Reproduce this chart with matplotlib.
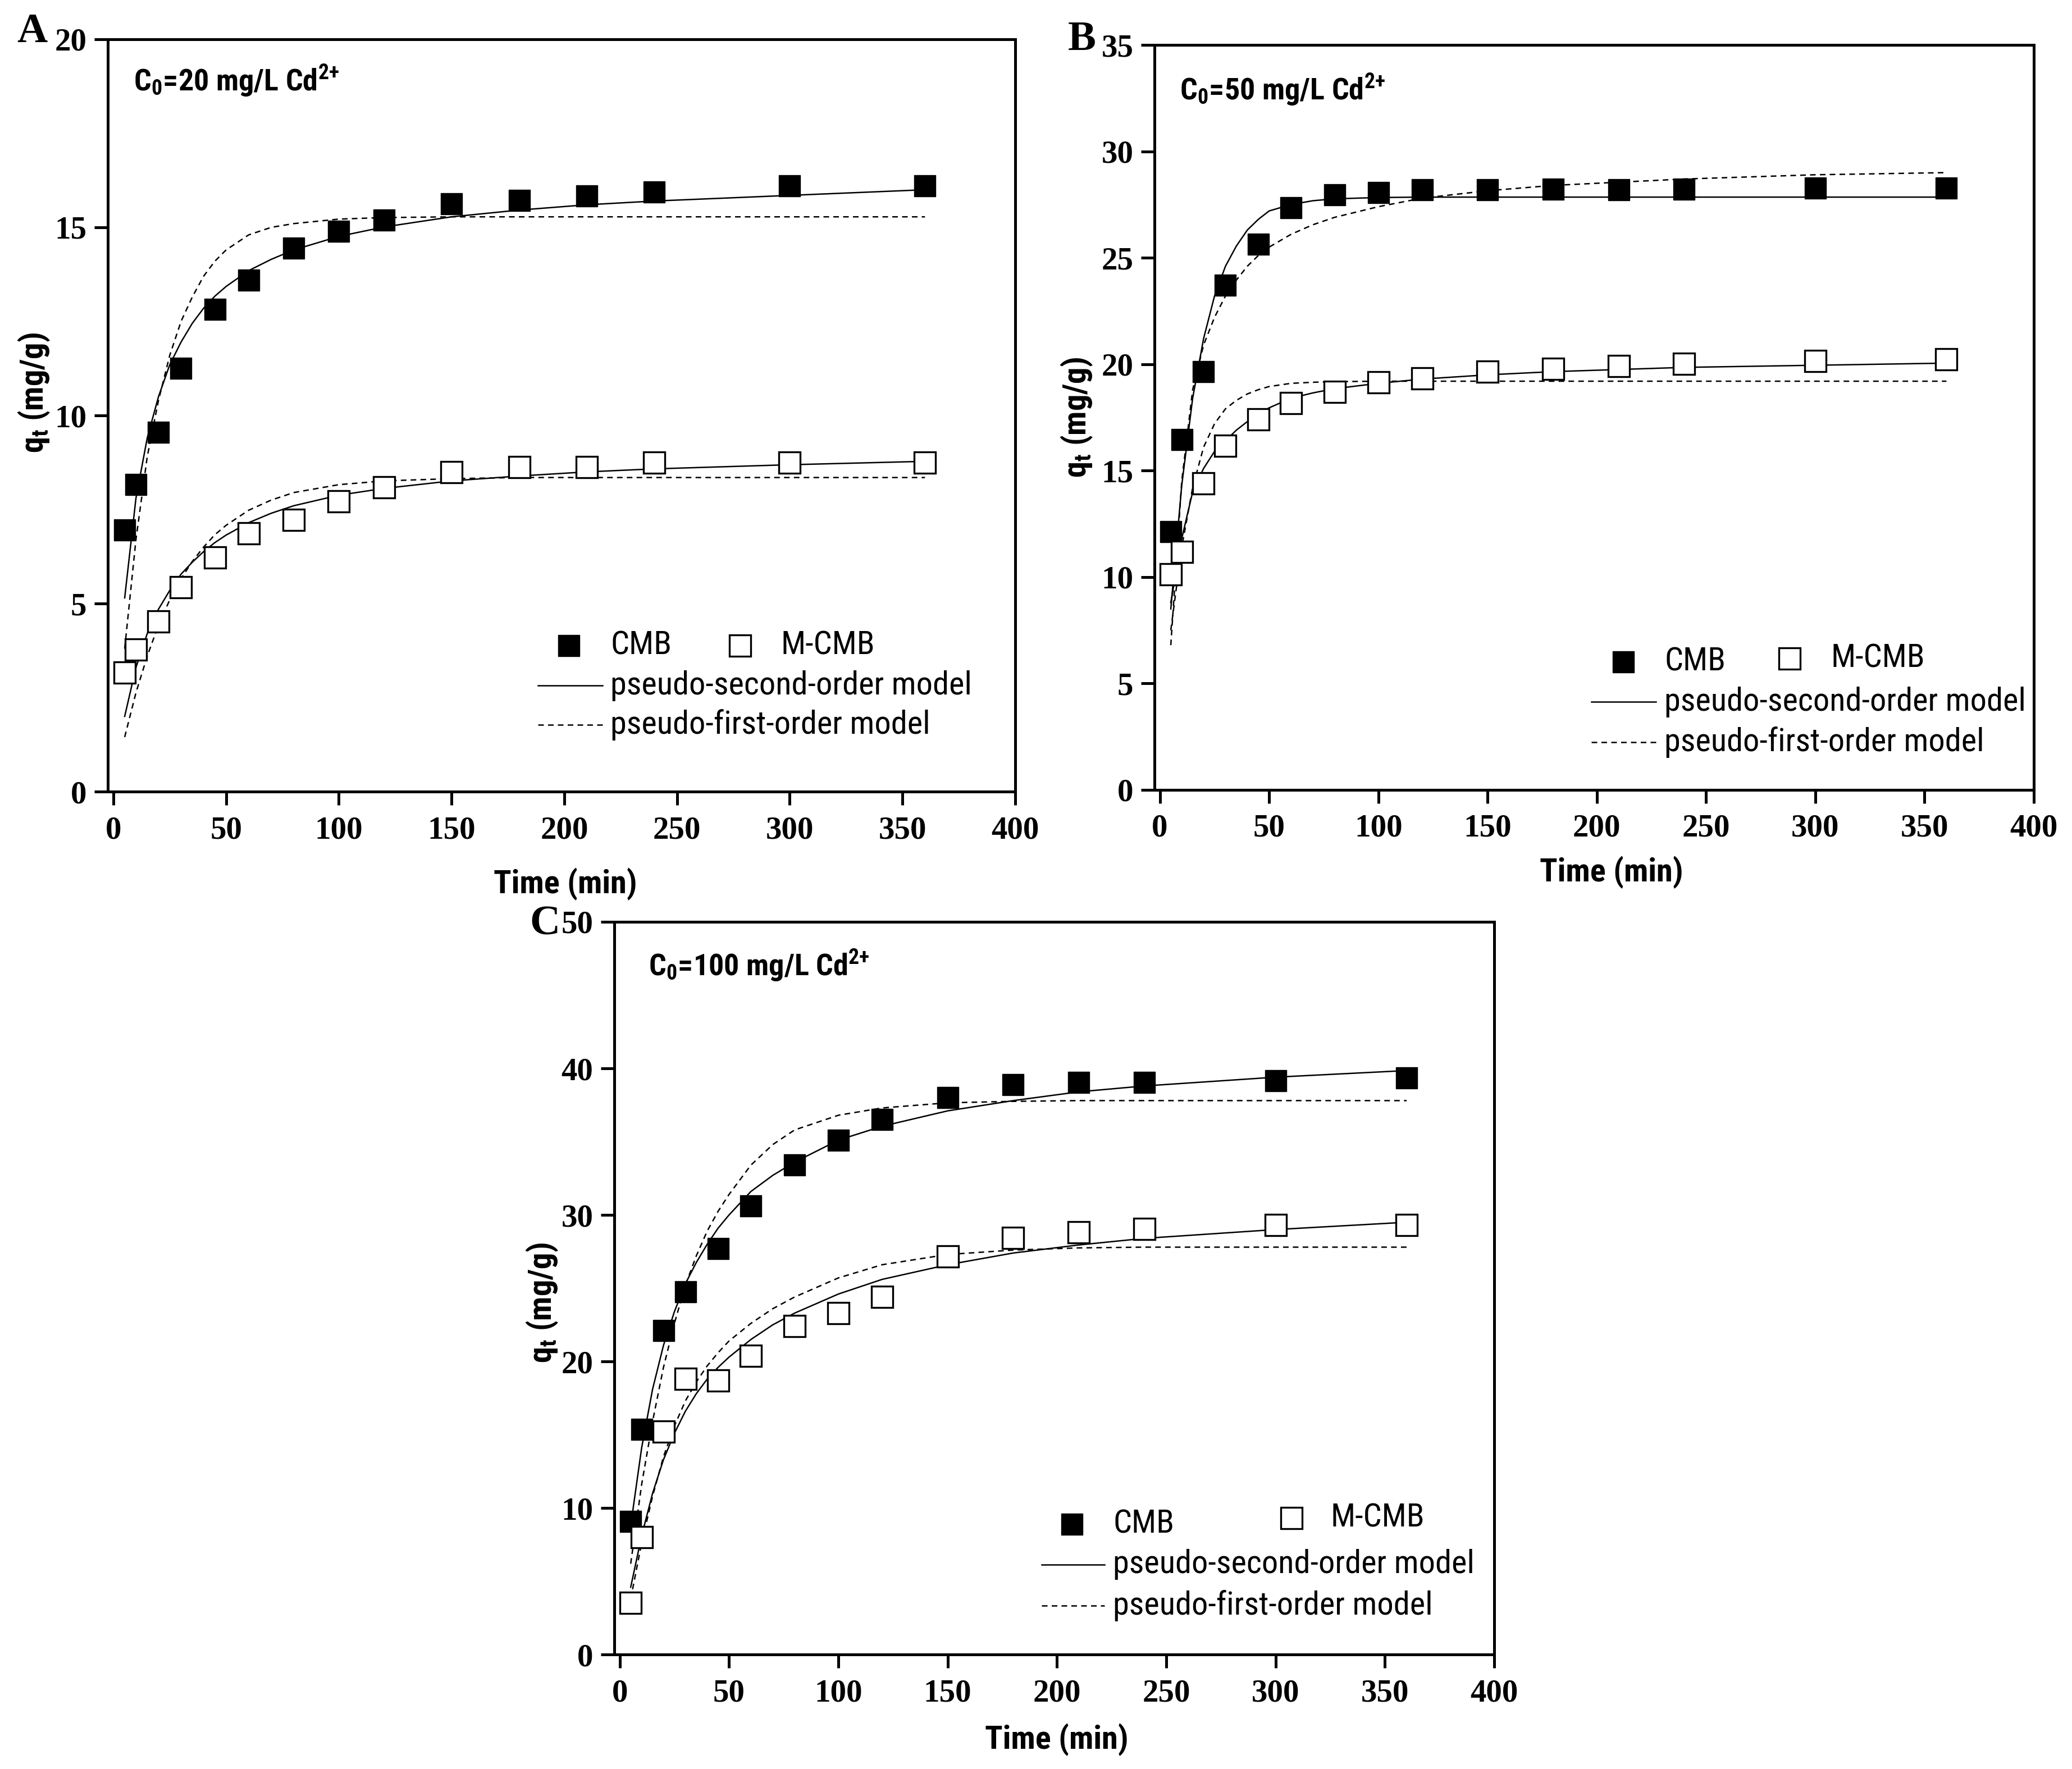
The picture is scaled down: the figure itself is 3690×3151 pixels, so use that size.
import matplotlib
matplotlib.use("Agg")
import matplotlib.pyplot as plt
from matplotlib import font_manager
from matplotlib.font_manager import FontProperties

# ---- data (time in min, q_t in mg/g) ----
t_exp = [5, 10, 20, 30, 45, 60, 80, 100, 120, 150, 180, 210, 240, 300, 360]
t_fit = [5, 10, 15, 20, 25, 30, 35, 40, 45, 50, 60, 70, 80, 100, 120, 150, 180, 210, 240, 300, 360]

# A: C0 = 20 mg/L
a_cmb = [6.95, 8.17, 9.55, 11.25, 12.82, 13.6, 14.45, 14.9, 15.2, 15.62, 15.71, 15.83, 15.94, 16.1, 16.1]
a_mcmb = [3.16, 3.77, 4.53, 5.44, 6.22, 6.86, 7.22, 7.71, 8.09, 8.5, 8.62, 8.62, 8.75, 8.75, 8.75]
a_cmb_pso = [5.15, 7.8, 9.4, 10.5, 11.35, 11.95, 12.45, 12.85, 13.17, 13.43, 13.85, 14.15, 14.4, 14.76, 15.01, 15.28, 15.46, 15.6, 15.7, 15.85, 16.0]
a_cmb_pfo = [3.8, 6.7, 8.9, 10.4, 11.6, 12.5, 13.15, 13.7, 14.1, 14.4, 14.8, 15.0, 15.1, 15.22, 15.26, 15.28, 15.28, 15.28, 15.28, 15.28, 15.28]
a_mcmb_pso = [2.0, 3.3, 4.2, 4.85, 5.35, 5.78, 6.1, 6.38, 6.62, 6.82, 7.15, 7.4, 7.6, 7.88, 8.06, 8.26, 8.39, 8.5, 8.58, 8.69, 8.78]
a_mcmb_pfo = [1.45, 2.63, 3.6, 4.43, 5.1, 5.66, 6.12, 6.5, 6.83, 7.08, 7.48, 7.75, 7.95, 8.16, 8.26, 8.32, 8.35, 8.35, 8.35, 8.35, 8.35]

# B: C0 = 50 mg/L
b_cmb = [12.12, 16.45, 19.66, 23.7, 25.63, 27.36, 27.95, 28.06, 28.19, 28.19, 28.22, 28.19, 28.22, 28.27, 28.27]
b_mcmb = [10.12, 11.17, 14.4, 16.18, 17.42, 18.17, 18.69, 19.14, 19.33, 19.66, 19.79, 19.92, 20.03, 20.14, 20.22]
b_cmb_pso = [8.5, 14.3, 18.4, 21.2, 23.2, 24.6, 25.55, 26.3, 26.8, 27.2, 27.5, 27.68, 27.77, 27.83, 27.85, 27.85, 27.85, 27.85, 27.85, 27.85, 27.85]
b_cmb_pfo = [6.8, 14.5, 18.8, 20.9, 22.2, 23.2, 23.95, 24.6, 25.1, 25.5, 26.1, 26.55, 26.9, 27.4, 27.8, 28.15, 28.4, 28.55, 28.7, 28.9, 29.0]
b_mcmb_pso = [8.8, 11.8, 14.0, 15.1, 15.9, 16.4, 16.9, 17.3, 17.65, 17.95, 18.4, 18.65, 18.85, 19.1, 19.3, 19.5, 19.65, 19.75, 19.85, 19.95, 20.05]
b_mcmb_pfo = [7.5, 11.4, 14.2, 16.1, 17.2, 17.9, 18.3, 18.6, 18.8, 18.95, 19.1, 19.15, 19.18, 19.2, 19.2, 19.2, 19.2, 19.2, 19.2, 19.2, 19.2]

# C: C0 = 100 mg/L
c_cmb = [9.1, 15.35, 22.1, 24.77, 27.7, 30.6, 33.4, 35.08, 36.5, 38.0, 38.9, 39.06, 39.06, 39.14, 39.34]
c_mcmb = [3.52, 8.0, 15.2, 18.8, 18.7, 20.4, 22.4, 23.3, 24.4, 27.15, 28.44, 28.83, 29.06, 29.3, 29.3]
c_cmb_pso = [8.8, 14.1, 18.1, 21.1, 23.4, 25.3, 26.75, 28.0, 29.1, 30.0, 31.6, 32.7, 33.6, 35.1, 36.05, 37.1, 37.8, 38.4, 38.8, 39.4, 39.85]
c_cmb_pfo = [6.2, 11.6, 15.9, 19.6, 22.6, 25.2, 27.2, 28.9, 30.25, 31.4, 33.4, 34.8, 35.8, 36.8, 37.3, 37.65, 37.75, 37.8, 37.8, 37.8, 37.8]
c_mcmb_pso = [4.6, 8.1, 11.0, 13.3, 15.1, 16.6, 17.8, 18.8, 19.6, 20.3, 21.5, 22.5, 23.3, 24.6, 25.6, 26.6, 27.4, 27.95, 28.4, 29.0, 29.5]
c_mcmb_pfo = [3.8, 7.6, 10.8, 13.5, 15.6, 17.3, 18.6, 19.7, 20.6, 21.4, 22.6, 23.6, 24.4, 25.7, 26.6, 27.3, 27.6, 27.75, 27.8, 27.8, 27.8]

# ---- fonts: look for a narrow sans like the original's Arial Narrow ----
narrow_name, narrow_stretch, size_k = "Liberation Sans", "normal", 0.9
fonts = font_manager.fontManager.ttflist
for name, stretch in [("Liberation Sans Narrow", None), ("Roboto Condensed", None),
                      ("Open Sans Condensed", None), ("DejaVu Sans", "condensed")]:
    hit = [f for f in fonts if f.name == name and (stretch is None or f.stretch == stretch)]
    if hit:
        narrow_name, narrow_stretch, size_k = name, (stretch or "normal"), 1.0
        break


def sans(size, weight="bold"):
    return FontProperties(family=narrow_name, stretch=narrow_stretch,
                          weight=weight, size=size * size_k)


plt.rcParams["font.family"] = "Liberation Serif"
plt.rcParams["font.weight"] = "bold"
plt.rcParams["mathtext.fontset"] = "custom"
pattern = f"{narrow_name}:bold:stretch={narrow_stretch}"
plt.rcParams["mathtext.rm"] = pattern
plt.rcParams["mathtext.it"] = pattern
plt.rcParams["mathtext.bf"] = pattern
plt.rcParams["mathtext.default"] = "bf"

fig = plt.figure(figsize=(36.91, 31.51), dpi=100)

panels = [
    dict(rect=[0.0520, 0.5525, 0.4378, 0.4253], ymax=20, ystep=5,
         cmb=a_cmb, mcmb=a_mcmb, fits=(a_cmb_pso, a_cmb_pfo, a_mcmb_pso, a_mcmb_pfo),
         note=r"C$_0$=20 mg/L Cd$^{2{+}}$", note_xy=(0.0285, 0.931),
         letter="A", letter_xy=(0.0155, 0.982),
         ylab_xy=(-0.062, 0.53), xlab_xy=(0.504, -0.101),
         leg=dict(m1=(0.508, 0.194), t1=0.554, m2=(0.697, 0.194), t2=0.742,
                  lx=(0.474, 0.545), ly=(0.141, 0.089), tx=0.554)),
    dict(rect=[0.5570, 0.5535, 0.4243, 0.4211], ymax=35, ystep=5,
         cmb=b_cmb, mcmb=b_mcmb, fits=(b_cmb_pso, b_cmb_pfo, b_mcmb_pso, b_mcmb_pfo),
         note=r"C$_0$=50 mg/L Cd$^{2{+}}$", note_xy=(0.029, 0.926),
         letter="B", letter_xy=(0.522, 0.9775),
         ylab_xy=(-0.068, 0.50), xlab_xy=(0.52, -0.089),
         leg=dict(m1=(0.533, 0.172), t1=0.580, m2=(0.722, 0.176), t2=0.769,
                  lx=(0.497, 0.570), ly=(0.118, 0.064), tx=0.580)),
    dict(rect=[0.2964, 0.0647, 0.4245, 0.4142], ymax=50, ystep=10,
         cmb=c_cmb, mcmb=c_mcmb, fits=(c_cmb_pso, c_cmb_pfo, c_mcmb_pso, c_mcmb_pfo),
         note=r"C$_0$=100 mg/L Cd$^{2{+}}$", note_xy=(0.039, 0.926),
         letter="C", letter_xy=(0.2628, 0.4775),
         ylab_xy=(-0.062, 0.48), xlab_xy=(0.503, -0.094),
         leg=dict(m1=(0.520, 0.178), t1=0.567, m2=(0.770, 0.186), t2=0.814,
                  lx=(0.486, 0.557), ly=(0.123, 0.067), tx=0.567)),
]

lw_fit = 1.8
dash = (0, (4, 3))
msize = 27
mew_open = 2.4

for p in panels:
    ax = fig.add_axes(p["rect"])
    pso_c, pfo_c, pso_m, pfo_m = p["fits"]
    ax.plot(t_fit, pso_c, "-", color="black", lw=lw_fit)
    ax.plot(t_fit, pfo_c, color="black", lw=lw_fit, linestyle=dash)
    ax.plot(t_fit, pso_m, "-", color="black", lw=lw_fit)
    ax.plot(t_fit, pfo_m, color="black", lw=lw_fit, linestyle=dash)
    ax.plot(t_exp, p["cmb"], "s", color="black", ms=msize, mec="black")
    ax.plot(t_exp, p["mcmb"], "s", mfc="white", mec="black", ms=msize, mew=mew_open)

    ax.set_xlim(-2.5, 400)
    ax.set_ylim(0, p["ymax"])
    ax.set_xticks(range(0, 401, 50))
    ax.set_yticks(range(0, p["ymax"] + 1, p["ystep"]))
    for s in ax.spines.values():
        s.set_linewidth(3.6)
    ax.tick_params(direction="out", length=17, width=3.6, labelsize=41, pad=10)
    ax.tick_params(axis="x", pad=14)

    ax.set_xlabel("Time (min)", fontproperties=sans(42))
    ax.set_ylabel(r"q$_t$ (mg/g)", fontproperties=sans(42))
    ax.xaxis.set_label_coords(*p["xlab_xy"])
    ax.yaxis.set_label_coords(*p["ylab_xy"])

    ax.text(p["note_xy"][0], p["note_xy"][1], p["note"], transform=ax.transAxes,
            fontproperties=sans(39), va="baseline", ha="left")
    fig.text(p["letter_xy"][0], p["letter_xy"][1], p["letter"], fontsize=54,
             fontweight="bold", ha="center", va="center")

    # hand-placed legend, as in the original figure
    lg = p["leg"]
    tr = ax.transAxes
    ax.plot([lg["m1"][0]], [lg["m1"][1]], "s", color="black", ms=msize, transform=tr)
    ax.text(lg["t1"], lg["m1"][1], "CMB", transform=tr,
            fontproperties=sans(42, "normal"), va="center")
    ax.plot([lg["m2"][0]], [lg["m2"][1]], "s", mfc="white", mec="black", ms=msize,
            mew=mew_open, transform=tr)
    ax.text(lg["t2"], lg["m2"][1], "M-CMB", transform=tr,
            fontproperties=sans(42, "normal"), va="center")
    ax.plot(lg["lx"], [lg["ly"][0]] * 2, "-", color="black", lw=lw_fit, transform=tr)
    ax.text(lg["tx"], lg["ly"][0], "pseudo-second-order model", transform=tr,
            fontproperties=sans(42, "normal"), va="center")
    ax.plot(lg["lx"], [lg["ly"][1]] * 2, color="black", lw=lw_fit, linestyle=dash,
            transform=tr)
    ax.text(lg["tx"], lg["ly"][1], "pseudo-first-order model", transform=tr,
            fontproperties=sans(42, "normal"), va="center")

fig.savefig("out.png", dpi=100)
